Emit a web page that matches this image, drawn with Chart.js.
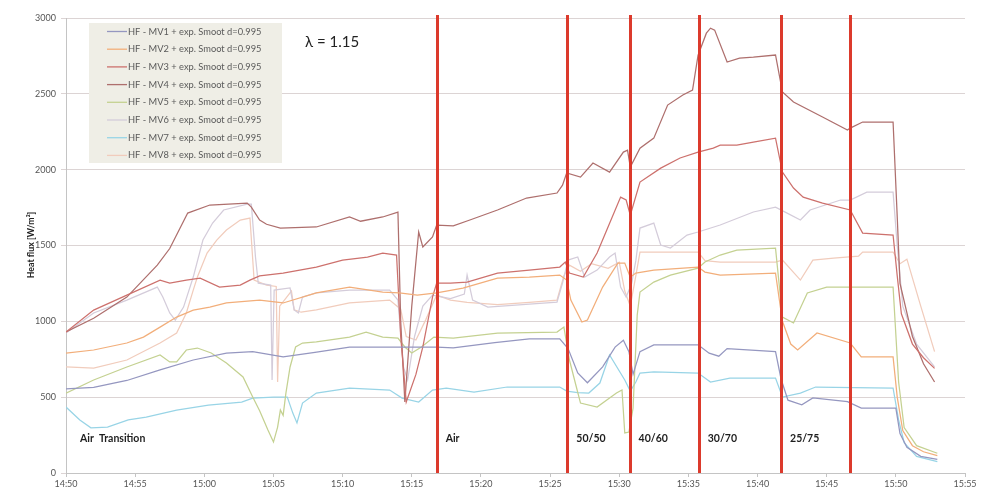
<!DOCTYPE html>
<html>
<head>
<meta charset="utf-8">
<script src="https://cdn.jsdelivr.net/npm/chart.js@4/dist/chart.umd.min.js"></script>
<style>
  html, body { margin: 0; padding: 0; background: #ffffff; }
  #wrap { width: 982px; height: 494px; }
</style>
</head>
<body>
<div id="wrap"><canvas id="c" width="982" height="494"></canvas></div>
<script>
// Heat flux of eight sensors (W/m²) against time, as [minutes after 14:50, value]
const MV1 = [[0,555],[2,565],[4.4,610],[6.8,680],[9.2,745],[11.6,790],[13.5,800],[15.7,765],[18,795],[20.5,830],[24,830],[26.8,830],[28,825],[31,860],[33.5,885],[35.7,885],[36.3,820],[37,660],[37.7,595],[38.8,700],[39.7,830],[40.3,875],[40.7,800],[41,650],[41.5,800],[42.5,845],[45.7,845],[46.5,790],[47.2,770],[47.8,820],[51.3,800],[51.7,620],[52.2,480],[53.2,450],[54,495],[56.5,470],[57.5,428],[60,428],[60.3,260],[60.8,170],[61.8,110],[63,90]];
const MV2 = [[0,791],[2,811],[4.4,857],[5.6,896],[6.8,962],[8,1028],[9.2,1074],[10.4,1094],[11.6,1121],[14,1140],[15.7,1121],[18.1,1187],[20.5,1226],[22.9,1193],[24.1,1187],[25.4,1173],[26.8,1187],[28.7,1219],[31.2,1285],[33.5,1292],[35.7,1305],[36.2,1272],[36.5,1140],[37.3,995],[37.7,1008],[38.8,1226],[39.9,1384],[40.4,1384],[40.8,1290],[41.2,1318],[42.5,1338],[45.7,1358],[46.2,1325],[47.3,1305],[51.3,1318],[51.8,1000],[52.4,850],[52.9,811],[54.3,923],[56.7,857],[57.5,765],[59.8,765],[60.1,500],[60.5,280],[61.2,180],[62,140],[63,115]];
const MV3 = [[0,930],[2,1074],[4.4,1173],[6.8,1272],[7.5,1252],[8.7,1272],[9.7,1285],[11.1,1226],[12.6,1239],[13.3,1272],[14,1300],[15.7,1318],[18.1,1358],[20,1404],[21.8,1424],[22.9,1450],[23.9,1437],[24.2,900],[24.6,468],[25.3,650],[25.8,831],[26.5,1160],[26.8,1252],[27.8,1252],[29,1259],[31.2,1318],[33.5,1338],[35.7,1358],[36.1,1391],[36.4,1318],[37.4,1292],[38.4,1450],[39.1,1602],[40.1,1819],[40.5,1800],[40.8,1700],[41.5,1918],[43,2010],[44.4,2077],[45.7,2116],[46.8,2142],[47.3,2162],[48.5,2162],[49.7,2182],[51.3,2208],[51.8,1984],[52.6,1879],[53.3,1819],[54.7,1780],[56.7,1734],[57.6,1582],[59.8,1569],[60.1,1300],[60.4,1050],[61.2,850],[62,760],[62.8,690]];
const MV4 = [[0,930],[2,1020],[4.4,1160],[6.6,1371],[7.5,1480],[8.8,1714],[10.4,1767],[13.1,1780],[13.4,1753],[14,1668],[14.5,1640],[15.5,1615],[18.1,1622],[20.5,1688],[21.3,1660],[22.9,1688],[24,1720],[24.2,1000],[24.5,468],[25,1100],[25.5,1589],[25.8,1490],[26.5,1556],[26.8,1635],[28,1630],[29.2,1668],[31.2,1734],[33.3,1813],[35.5,1846],[35.9,1898],[36.2,1978],[37.2,1951],[38.1,2044],[39.3,1984],[40.3,2116],[40.6,2129],[40.8,2017],[41.5,2142],[42.5,2208],[43.5,2426],[44.6,2492],[45.3,2525],[45.7,2755],[46.3,2900],[46.6,2933],[46.9,2920],[47.8,2710],[48.7,2736],[49.7,2742],[51.3,2756],[51.8,2512],[52.6,2446],[54.7,2347],[56.5,2261],[56.7,2274],[57.6,2314],[59.8,2314],[60.1,1690],[60.3,1250],[61.2,900],[62,720],[62.8,600]];
const MV5 = [[0,527],[2,613],[4.4,699],[6.8,778],[7.5,732],[8,732],[8.7,811],[9.5,824],[10.5,791],[11.6,725],[12.8,633],[13.5,501],[14,410],[14.6,283],[15,204],[15.3,303],[15.5,415],[15.7,380],[15.9,527],[16.2,699],[16.6,831],[17.1,857],[18.1,864],[20.5,896],[21.7,929],[22.9,896],[24,890],[24.5,831],[25,791],[25.7,831],[26.6,896],[28,890],[31.2,923],[35.5,929],[36,962],[36.4,745],[36.9,567],[37.2,461],[38.4,435],[39.8,527],[40.2,547],[40.4,264],[40.7,270],[41,428],[41.3,1041],[41.5,1193],[42.5,1259],[43.7,1305],[45.7,1351],[46.2,1391],[47.3,1437],[48.5,1470],[51.3,1483],[51.8,1028],[52.6,989],[53.6,1187],[55,1226],[59.8,1226],[60.2,600],[60.6,300],[61.5,180],[63,130]];
const MV6 = [[0,923],[2,1055],[4.4,1140],[6.6,1226],[7,1160],[7.5,1055],[7.9,1008],[8.5,1094],[9.2,1292],[9.9,1536],[10.6,1648],[11.4,1734],[13.1,1773],[13.4,1773],[13.7,1424],[13.9,1252],[14.8,1239],[14.9,613],[15.05,1206],[16.2,1220],[16.5,1075],[16.8,1055],[17.1,1160],[18.1,1187],[20.5,1206],[23.4,1206],[24,1140],[24.4,700],[24.7,613],[25.2,900],[25.8,1100],[26.5,1173],[27.8,1150],[28.8,1180],[29,1305],[29.4,1140],[30.5,1094],[33,1110],[35.5,1127],[35.9,1252],[36.3,1404],[37,1424],[37.5,1292],[38.4,1338],[39.3,1424],[39.7,1450],[40.1,1226],[40.5,1160],[40.9,1250],[41.2,1400],[41.5,1615],[42.5,1648],[43,1503],[43.7,1483],[44.9,1569],[45.7,1589],[47.3,1635],[49.7,1721],[51.3,1753],[52,1720],[53.1,1668],[53.8,1734],[56,1800],[56.7,1800],[57.9,1852],[59.8,1852],[60.1,1500],[60.5,1100],[61.5,850],[62.8,700]];
const MV7 = [[0,435],[1,350],[1.8,298],[3,303],[4.5,350],[5.8,369],[8,415],[10.3,448],[12.7,468],[13.5,494],[15,501],[16,500],[16.4,395],[16.7,330],[17.1,461],[18.1,527],[20.5,560],[23.4,547],[24.3,494],[25.5,468],[26.5,547],[27.5,560],[29.5,534],[31.9,567],[35.7,567],[36.2,540],[37,530],[37.8,527],[38.6,593],[39.3,778],[40.4,613],[40.8,540],[41.2,600],[41.5,659],[42.5,666],[45.7,659],[46.6,600],[48,626],[51.3,626],[51.8,501],[53.1,527],[54.2,567],[59.8,560],[60.2,350],[60.6,200],[61.5,110],[63,75]];
const MV8 = [[0,699],[2,692],[4.4,745],[6.8,857],[8,923],[8.7,1055],[9.2,1206],[9.5,1292],[10.2,1450],[10.9,1536],[11.6,1602],[12.6,1668],[13.3,1681],[13.6,1272],[14.5,1239],[15.2,1230],[15.3,600],[15.45,1100],[16.3,1200],[16.5,1075],[17,1060],[18.1,1075],[20.5,1121],[23.4,1140],[24.2,1080],[24.6,900],[25.3,877],[26,1008],[26.8,1173],[27.8,1140],[29,1125],[31.2,1110],[33.5,1125],[35.5,1140],[36,1300],[36.4,1370],[37.2,1330],[38,1380],[39.2,1350],[40,1390],[40.4,1200],[40.8,1100],[41.2,1300],[41.5,1457],[45.7,1457],[46.2,1400],[47.3,1391],[51.3,1391],[51.8,1404],[53.1,1272],[54,1404],[55.5,1417],[57.3,1430],[57.6,1457],[59.8,1457],[60.3,1380],[60.8,1410],[61.8,1100],[62.8,800]];

const seriesNames = ["HF - MV1 + exp. Smoot d=0.995","HF - MV2 + exp. Smoot d=0.995","HF - MV3 + exp. Smoot d=0.995","HF - MV4 + exp. Smoot d=0.995","HF - MV5 + exp. Smoot d=0.995","HF - MV6 + exp. Smoot d=0.995","HF - MV7 + exp. Smoot d=0.995","HF - MV8 + exp. Smoot d=0.995"];
const seriesData = [MV1, MV2, MV3, MV4, MV5, MV6, MV7, MV8];
const seriesColors = ["#9597c0","#f2ae7a","#cd716d","#ae6f6d","#c4d191","#d4ccda","#98d4e6","#f1ccbc"];

// Phase changes (minutes after 14:50) and the phase names
const phaseStarts = [0, 26.8, 36.25, 40.75, 45.75, 51.7, 56.7];
const phaseLabels = ["Air  Transition", "Air", "50/50", "40/60", "30/70", "25/75"];
const xTickStart = { h: 14, m: 50 };
const yTicks = [0, 500, 1000, 1500, 2000, 2500, 3000];

const FONT = "Lato, 'Open Sans', sans-serif";

function clockLabel(min) {
  const total = xTickStart.h * 60 + xTickStart.m + Math.round(min);
  const h = Math.floor(total / 60), m = total % 60;
  return h + ":" + String(m).padStart(2, "0");
}

const overlay = {
  id: "overlay",
  afterDatasetsDraw(chart) {
    const ctx = chart.ctx;
    const xs = chart.scales.x;
    const area = chart.chartArea;
    ctx.save();
    // phase boundaries
    ctx.strokeStyle = "#dc3a2c";
    ctx.lineWidth = 3;
    phaseStarts.slice(1).forEach(t => {
      const px = Math.round(xs.getPixelForValue(t)) + 0.5;
      ctx.beginPath();
      ctx.moveTo(px, area.top - 3);
      ctx.lineTo(px, area.bottom);
      ctx.stroke();
    });
    // phase names
    ctx.fillStyle = "#1e1e1e";
    ctx.font = "bold 10.5px " + FONT;
    ctx.textBaseline = "middle";
    ctx.textAlign = "left";
    phaseLabels.forEach((lab, i) => {
      const px = i === 0 ? xs.getPixelForValue(0) + 14 : xs.getPixelForValue(phaseStarts[i]) + 9;
      ctx.fillText(lab, px, 439);
    });
    // lambda note
    ctx.font = "15px " + FONT;
    ctx.fillStyle = "#222";
    ctx.fillText("λ = 1.15", 305, 42);
    // legend box
    const lx = 89, ly = 23, lw = 193, lh = 140;
    ctx.fillStyle = "#efeee6";
    ctx.fillRect(lx, ly, lw, lh);
    ctx.font = "9.3px " + FONT;
    ctx.textBaseline = "middle";
    seriesNames.forEach((name, i) => {
      const yy = 31.5 + i * 17.7;
      ctx.strokeStyle = seriesColors[i];
      ctx.lineWidth = 1.3;
      ctx.beginPath();
      ctx.moveTo(107, yy);
      ctx.lineTo(127, yy);
      ctx.stroke();
      ctx.fillStyle = "#5a5a5a";
      ctx.fillText(name, 128, yy);
    });
    // axis title
    ctx.translate(31, 245);
    ctx.rotate(-Math.PI / 2);
    ctx.textAlign = "center";
    ctx.fillStyle = "#222";
    ctx.font = "bold 8.8px " + FONT;
    ctx.fillText("Heat flux [W/m²]", 0, 0);
    ctx.restore();
  }
};

new Chart(document.getElementById("c"), {
  type: "line",
  data: {
    datasets: seriesData.map((s, i) => ({
      label: seriesNames[i],
      data: s.map(p => ({ x: p[0], y: p[1] })),
      borderColor: seriesColors[i],
      borderWidth: 1.25,
      pointRadius: 0,
      tension: 0,
      fill: false
    }))
  },
  options: {
    responsive: false,
    animation: false,
    devicePixelRatio: 1,
    layout: { padding: { top: 18, right: 17, left: 0, bottom: 0 } },
    plugins: { legend: { display: false }, tooltip: { enabled: false } },
    scales: {
      x: {
        type: "linear",
        min: 0, max: 65,
        afterFit(scale) { scale.height = 21; },
        afterBuildTicks(scale) { scale.ticks = Array.from({ length: 14 }, (_, i) => ({ value: i * 5 })); },
        ticks: { callback: v => clockLabel(v), font: { family: FONT, size: 9 }, color: "#555", padding: 2, maxRotation: 0, autoSkip: false },
        grid: { drawOnChartArea: false, tickLength: 4, color: "#c4c4c4" },
        border: { color: "#c4c4c4" }
      },
      y: {
        min: 0, max: 3000,
        afterFit(scale) { scale.width = 66; },
        afterBuildTicks(scale) { scale.ticks = yTicks.map(v => ({ value: v })); },
        ticks: { callback: v => String(v), font: { family: FONT, size: 9 }, color: "#555", padding: 5 },
        grid: { color: "#dcd4d4", tickLength: 5 },
        border: { color: "#c4c4c4" }
      }
    }
  },
  plugins: [overlay]
});
</script>
</body>
</html>
